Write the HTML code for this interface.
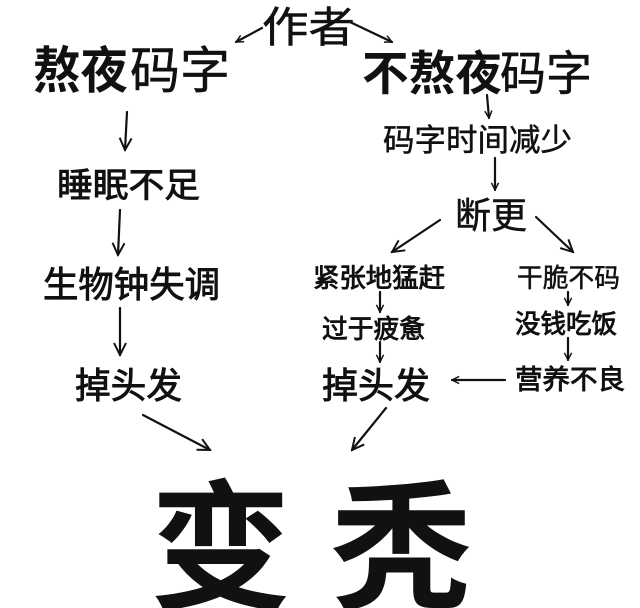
<!DOCTYPE html>
<html><head><meta charset="utf-8"><style>
html,body{margin:0;padding:0;background:#fff;}
svg{display:block}
text{font-family:"Liberation Sans","Noto Sans CJK SC",sans-serif;fill:#111;}
.m{stroke:#111;stroke-width:0.9;}
.s{stroke:#111;stroke-width:0.5;}
</style></head><body>
<svg width="640" height="608" viewBox="0 0 640 608" xmlns="http://www.w3.org/2000/svg">
<defs>
<marker id="a" viewBox="0 0 10 10" refX="9" refY="5" markerWidth="9" markerHeight="9" orient="auto" markerUnits="userSpaceOnUse">
<path d="M1,1 L9,5 L1,9" fill="none" stroke="#111" stroke-width="1.6"/>
</marker>
<marker id="b" viewBox="0 0 10 10" refX="9" refY="5" markerWidth="15" markerHeight="15" orient="auto" markerUnits="userSpaceOnUse">
<path d="M1,1 L9,5 L1,9" fill="none" stroke="#111" stroke-width="1.3"/>
</marker>
</defs>
<text x="262" y="42" font-size="42" textLength="93" lengthAdjust="spacingAndGlyphs" class="s">作者</text>
<text x="33" y="88" font-size="50" font-weight="bold" textLength="95" lengthAdjust="spacingAndGlyphs">熬夜</text>
<text x="130" y="88" font-size="50" textLength="100" lengthAdjust="spacingAndGlyphs" class="s">码字</text>
<text x="362" y="90" font-size="47" font-weight="bold" textLength="140" lengthAdjust="spacingAndGlyphs">不熬夜</text>
<text x="500" y="90" font-size="47" textLength="92" lengthAdjust="spacingAndGlyphs" class="s">码字</text>
<text x="383" y="151" font-size="31" textLength="189" lengthAdjust="spacingAndGlyphs" class="s">码字时间减少</text>
<text x="57" y="197" font-size="34" textLength="143" lengthAdjust="spacingAndGlyphs" class="m">睡眠不足</text>
<text x="455" y="228" font-size="36" textLength="72" lengthAdjust="spacingAndGlyphs" class="s">断更</text>
<text x="43" y="297" font-size="36" textLength="177" lengthAdjust="spacingAndGlyphs" class="m">生物钟失调</text>
<text x="313" y="287" font-size="26" textLength="132" lengthAdjust="spacingAndGlyphs" class="m">紧张地猛赶</text>
<text x="517" y="287" font-size="26" textLength="103" lengthAdjust="spacingAndGlyphs" class="s">干脆不码</text>
<text x="322" y="338" font-size="26" textLength="103" lengthAdjust="spacingAndGlyphs" class="m">过于疲惫</text>
<text x="515" y="333" font-size="26" textLength="102" lengthAdjust="spacingAndGlyphs" class="m">没钱吃饭</text>
<text x="75" y="398" font-size="36" textLength="107" lengthAdjust="spacingAndGlyphs" class="m">掉头发</text>
<text x="322" y="398" font-size="36" textLength="108" lengthAdjust="spacingAndGlyphs" class="m">掉头发</text>
<text x="515" y="389" font-size="27" textLength="110" lengthAdjust="spacingAndGlyphs" class="m">营养不良</text>
<text x="150" y="598" font-size="140" font-weight="bold" textLength="322" lengthAdjust="spacingAndGlyphs">变 秃</text>
<g stroke="#111" stroke-width="2.2" fill="none" stroke-linecap="round">
<line x1="262" y1="28" x2="236" y2="42" marker-end="url(#a)"/>
<line x1="350" y1="22" x2="392" y2="42" marker-end="url(#a)"/>
<line x1="127" y1="112" x2="125" y2="150" marker-end="url(#b)"/>
<line x1="120" y1="210" x2="118" y2="255" marker-end="url(#b)"/>
<line x1="120" y1="308" x2="120" y2="355" marker-end="url(#b)"/>
<line x1="143" y1="415" x2="210" y2="450" marker-end="url(#b)"/>
<line x1="386" y1="408" x2="352" y2="450" marker-end="url(#b)"/>
<line x1="487" y1="95" x2="489" y2="118" marker-end="url(#a)"/>
<line x1="495" y1="158" x2="495" y2="190" marker-end="url(#a)"/>
<line x1="440" y1="220" x2="392" y2="252" marker-end="url(#b)"/>
<line x1="536" y1="217" x2="573" y2="252" marker-end="url(#b)"/>
<line x1="380" y1="292" x2="380" y2="312" marker-end="url(#a)"/>
<line x1="568" y1="292" x2="568" y2="305" marker-end="url(#a)"/>
<line x1="380" y1="342" x2="380" y2="362" marker-end="url(#a)"/>
<line x1="568" y1="338" x2="568" y2="360" marker-end="url(#a)"/>
<line x1="505" y1="380" x2="452" y2="380" marker-end="url(#a)"/>
</g>
</svg>
</body></html>
